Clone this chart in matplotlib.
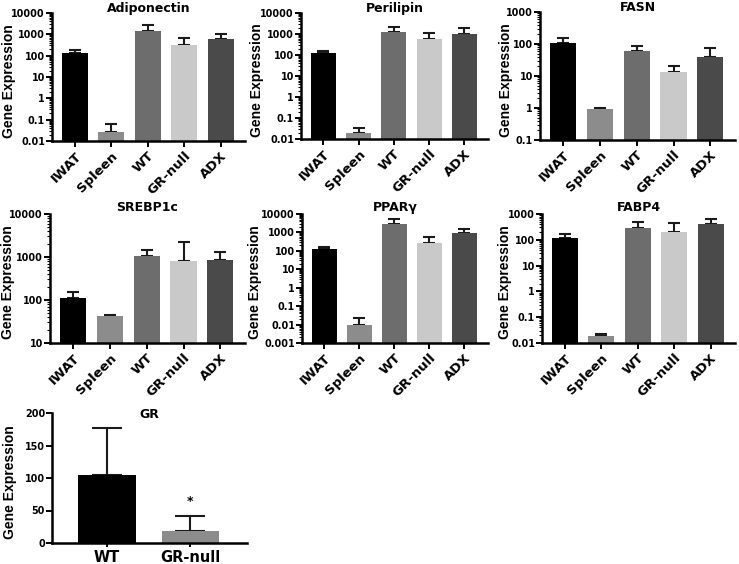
import matplotlib
matplotlib.use('Agg')
import matplotlib.pyplot as plt
from matplotlib.ticker import LogLocator, FixedLocator, FixedFormatter
from matplotlib.transforms import ScaledTranslation, blended_transform_factory

plt.rcParams['font.family'] = ['DejaVu Sans']
plt.rcParams['font.weight'] = 'bold'

groups = ['IWAT', 'Spleen', 'WT', 'GR-null', 'ADX']
colors = ['#000000', '#8c8c8c', '#6d6d6d', '#c9c9c9', '#4a4a4a']

# mean values and upper error ends (mean + SD)
adipo = [130, 0.027, 1500, 330, 620]
adipo_err = [190, 0.065, 2600, 650, 1000]
peri = [120, 0.02, 1300, 600, 1000]
peri_err = [160, 0.032, 2100, 1100, 1900]
fasn = [110, 0.9, 60, 13, 40]
fasn_err = [150, 1.0, 85, 20, 75]
srebp = [110, 42, 1050, 820, 870]
srebp_err = [150, 45, 1450, 2200, 1300]
pparg = [120, 0.01, 2800, 270, 900]
pparg_err = [160, 0.024, 5500, 550, 1450]
fabp4 = [120, 0.019, 280, 200, 400]
fabp4_err = [170, 0.023, 470, 450, 620]

gr_groups = ['WT', 'GR-null']
gr_colors = ['#000000', '#8c8c8c']
gr = [105, 19]
gr_err = [177, 41]

fig = plt.figure(figsize=(7.39, 5.64), dpi=100)

W, H = 739, 564


def make_ax(l, t, r, b):
    return fig.add_axes([l / W, 1 - b / H, (r - l) / W, (b - t) / H])


def style(ax, label_x):
    for s in ['top', 'right']:
        ax.spines[s].set_visible(False)
    for s in ['left', 'bottom']:
        ax.spines[s].set_linewidth(1.8)
    ax.tick_params(axis='y', which='major', length=4, width=1.4, pad=1)
    ax.tick_params(axis='y', which='minor', length=2, width=0.8)
    ax.tick_params(axis='x', length=4, width=1.4, pad=2)
    for lab in ax.get_yticklabels():
        lab.set_fontweight('bold')
        lab.set_fontsize(6.9)
    ax.set_ylabel('Gene Expression', fontsize=10, fontweight='bold',
                  family='Liberation Sans')
    ax.yaxis.set_label_coords(label_x / W, 0.47,
                              transform=blended_transform_factory(fig.transFigure, ax.transAxes))


def title(ax, text, dy):
    ax.annotate(text, xy=(0.5, 1.0), xycoords='axes fraction',
                xytext=(0, dy), textcoords='offset points',
                ha='center', va='baseline', fontsize=9, fontweight='bold')


def log_panel(ax, name, vals, errs, lo, hi, label_x, dy):
    x = list(range(len(groups)))
    ax.bar(x, vals, width=0.71, color=colors, zorder=2)
    for xi, v, e in zip(x, vals, errs):
        ax.errorbar(xi, v, yerr=[[0], [e - v]], fmt='none', ecolor='#1a1a1a',
                    elinewidth=1.5, capsize=4.6, capthick=1.5, zorder=1)
    ax.set_yscale('log')
    ax.set_ylim(lo, hi)
    ax.set_xlim(-0.63, 4.67)
    exps = []
    v = lo
    while v <= hi * 1.001:
        exps.append(v)
        v *= 10
    ax.yaxis.set_major_locator(FixedLocator(exps))
    ax.yaxis.set_major_formatter(FixedFormatter([('%g' % e) for e in exps]))
    ax.yaxis.set_minor_locator(LogLocator(base=10, subs=range(2, 10), numticks=20))
    ax.set_xticks(x)
    ax.set_xticklabels(groups, rotation=45, ha='right', rotation_mode='anchor',
                       fontweight='bold', fontsize=9.5)
    off = ScaledTranslation(3 / 100, 0, fig.dpi_scale_trans)
    for lab in ax.get_xticklabels():
        lab.set_transform(lab.get_transform() + off)
    title(ax, name, dy)
    style(ax, label_x)


ax1 = make_ax(52, 13, 245, 141)
log_panel(ax1, 'Adiponectin', adipo, adipo_err, 0.01, 10000, 16, 1)
ax2 = make_ax(301, 13, 488, 139)
log_panel(ax2, 'Perilipin', peri, peri_err, 0.01, 10000, 264, 1)
ax3 = make_ax(540, 12, 735, 140)
log_panel(ax3, 'FASN', fasn, fasn_err, 0.1, 1000, 513, 1)
ax4 = make_ax(50, 214, 245, 343)
log_panel(ax4, 'SREBP1c', srebp, srebp_err, 10, 10000, 15, 2)
ax5 = make_ax(302, 214, 488, 343)
log_panel(ax5, 'PPARγ', pparg, pparg_err, 0.001, 10000, 262, 2)
ax6 = make_ax(542, 214, 735, 343)
log_panel(ax6, 'FABP4', fabp4, fabp4_err, 0.01, 1000, 512, 2)

# GR panel (linear)
ax7 = make_ax(52, 413, 247, 543)
x = [0, 1]
ax7.bar(x, gr, width=0.69, color=gr_colors, zorder=2)
for xi, v, e in zip(x, gr, gr_err):
    ax7.errorbar(xi, v, yerr=[[0], [e - v]], fmt='none', ecolor='#1a1a1a',
                 elinewidth=1.5, capsize=10.5, capthick=1.5, zorder=1)
ax7.text(1, 64, '*', ha='center', va='center', fontsize=9, fontweight='bold')
ax7.set_xlim(-0.66, 1.68)
ax7.set_ylim(0, 200)
ax7.set_yticks([0, 50, 100, 150, 200])
ax7.set_xticks(x)
ax7.set_xticklabels(gr_groups, fontweight='bold', fontsize=10.5)
title(ax7, 'GR', -3.6)
style(ax7, 17)
ax7.tick_params(axis='x', length=3, pad=2)

fig.savefig('out.png', dpi=100)
